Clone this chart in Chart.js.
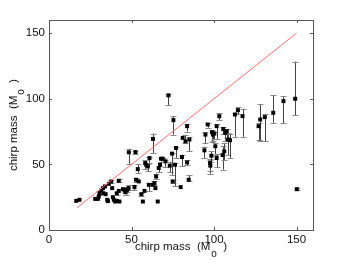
<!DOCTYPE html>
<html>
<head>
<meta charset="utf-8">
<script src="https://cdn.jsdelivr.net/npm/chart.js@4"></script>
<style>
  html, body { margin: 0; padding: 0; background: #fff; }
  canvas { display: block; }
</style>
</head>
<body>
<canvas id="chart" width="346" height="264"></canvas>
<script>
// measured chirp mass vs injected chirp mass
const massX = [16.5, 18.5, 28, 29.6, 30.2, 30.6, 31.7, 32.7, 33, 34.3, 33.9, 35.3, 35.7, 36.3, 37.7, 38.3, 38.7, 39.3, 40.1, 41.1,
  42.3, 41.1, 42.7, 42.3, 44.8, 45.8, 46.4, 47.4, 48.2, 48.4, 51.8, 52.4, 52.8, 53.8, 54.4, 56, 56.9, 57.9, 58.3, 58.9,
  59.9, 60.9, 60.5, 63, 63, 63.9, 64.5, 64.9, 65.9, 66.5, 67.3, 67.9, 68.9, 70.6, 72.4, 73.2, 74.6, 75, 75.4, 76.4,
  77, 79.8, 80.6, 81, 82.7, 83.7, 83.7, 84.7, 85.1, 94.2, 94.8, 96.2, 97.6, 97.8, 98.4, 98.8, 99.4, 100.2, 100.8, 101.6,
  101.6, 103.2, 105.2, 105.6, 106.2, 106.9, 107.7, 108.5, 109.7, 112.7, 114.5, 117.3, 127, 128, 130.8, 135.9, 142.1, 149.2, 150.2];
const massY = [22.2, 23, 23.7, 23.7, 25.5, 28, 30, 31.9, 28, 27.3, 33.2, 23, 22, 35.2, 37, 31.9, 25, 23, 21.7, 28,
  29.8, 22.2, 21.7, 37.5, 31.1, 30.1, 28.8, 30.6, 31.9, 59.2, 32.7, 59.4, 38.3, 46.4, 37, 27.3, 21.7, 29.8, 51, 49.7,
  48.5, 54.8, 34.4, 34.4, 69.4, 35.7, 31.9, 40.8, 21.7, 47.2, 49.7, 54.3, 54.3, 52.3, 102.6, 49, 58.2, 37, 83.7, 49.7,
  62.5, 32.7, 55.6, 70.2, 67.6, 79.1, 51.5, 38.3, 68.9, 60.7, 72.7, 80.4, 51, 49, 56.6, 74.5, 72.7, 73.5, 63.8, 79.1,
  54.8, 86.7, 57.1, 77, 59.9, 74, 75.3, 68.9, 68.4, 88, 91.3, 86.7, 79.1, 84.2, 86, 89.3, 98.2, 100, 31.1];
const errLo = [null, null, null, null, null, 26.5, null, null, null, null, null, null, null, null, 36, null, null, null, null, 26.5,
  null, null, null, 36.5, null, 28, 27, 29, 30.5, 50.5, 30.5, 58, 36.5, 43.5, null, 26, null, null, 46.5, null,
  45, 51, 29.5, null, 58.7, 34, null, 38.5, null, 44, null, 52, 53, 48, 95, 44, 42, 36, 72.7, 33.2,
  55, null, 48.5, null, 66, 75, 49.5, 37, 60, 55, 66, 78, 42.9, 45, 52, 67, 68, 69, 57, 69.4,
  48, 84, 46, 73, 53, 68, 70, 57.3, 55, 71, 88, 71, 68.4, 67.6, 67.5, 81.6, 81.6, 87.5, 30.5];
const errHi = [null, null, null, null, null, 29.5, null, null, null, null, null, null, null, null, 38, null, null, null, null, 29,
  null, null, null, 38.5, null, 31.5, 31, 33, 34, 62, 34.5, 60.5, 39.5, 50, null, 28.5, null, null, 53, null,
  50, 55.5, 35.5, null, 73.5, 37, null, 43, null, 48.5, null, 55, 55, 53.5, 103.5, 52, 59, 38, 86.7, 51,
  63.5, null, 57.5, null, 72.5, 80.5, 53, 42, 71, 63.5, 74.5, 81.5, 54.1, 53, 60, 76, 75, 75, 66, 80.5,
  58, 89, 63.8, 78.5, 66, 75.5, 77, 74, 73, 89.5, 93.5, 92.5, 81.6, 95.7, 88.5, 102.8, 102, 128.3, 31.8];

// y = x reference line
const lineX = [17, 150];
const lineY = [17, 150];

const xTicks = [0, 50, 100, 150];
const yTicks = [0, 50, 100, 150];
const axisTitle = ['chirp mass  (M', 'o', '  )'];

Chart.defaults.font.family = '"Liberation Sans", Arial, sans-serif';
Chart.defaults.font.size = 11.5;
Chart.defaults.color = '#111';

const points = massX.map((x, i) => ({ x: x, y: massY[i] }));
const diag = lineX.map((x, i) => ({ x: x, y: lineY[i] }));

// error bars, box with inward ticks, axis titles
const extras = {
  id: 'extras',
  beforeDatasetsDraw(chart) {
    const c = chart.ctx, xs = chart.scales.x, ys = chart.scales.y;
    c.save();
    c.lineWidth = 1;
    massX.forEach((x, i) => {
      if (errLo[i] == null) return;
      const px = Math.round(xs.getPixelForValue(x)) + 0.5;
      const lo = ys.getPixelForValue(errLo[i]);
      const hi = ys.getPixelForValue(errHi[i]);
      c.strokeStyle = '#444';
      c.beginPath();
      c.moveTo(px, lo); c.lineTo(px, hi);
      c.stroke();
      c.strokeStyle = '#888';
      c.beginPath();
      c.moveTo(px - 3, Math.round(lo) + 0.5); c.lineTo(px + 3, Math.round(lo) + 0.5);
      c.moveTo(px - 3, Math.round(hi) + 0.5); c.lineTo(px + 3, Math.round(hi) + 0.5);
      c.stroke();
    });
    c.restore();
  },
  afterDraw(chart) {
    const c = chart.ctx, a = chart.chartArea, xs = chart.scales.x, ys = chart.scales.y;
    c.save();
    c.strokeStyle = '#555';
    c.lineWidth = 1;
    c.strokeRect(Math.round(a.left) + 0.5, Math.round(a.top) + 0.5,
      Math.round(a.right - a.left), Math.round(a.bottom - a.top));
    c.beginPath();
    xTicks.forEach(v => {
      const px = Math.round(xs.getPixelForValue(v)) + 0.5;
      c.moveTo(px, a.bottom); c.lineTo(px, a.bottom - 3);
      c.moveTo(px, a.top); c.lineTo(px, a.top + 3);
    });
    yTicks.forEach(v => {
      const py = Math.round(ys.getPixelForValue(v)) + 0.5;
      c.moveTo(a.left, py); c.lineTo(a.left + 3, py);
      c.moveTo(a.right, py); c.lineTo(a.right - 3, py);
    });
    c.stroke();

    // axis titles with subscript o
    const main = '11.5px "Liberation Sans", Arial, sans-serif';
    const sub = '10px "Liberation Sans", Arial, sans-serif';
    c.fillStyle = '#111';
    c.textBaseline = 'alphabetic';
    c.textAlign = 'left';
    c.font = main;
    const w0 = c.measureText(axisTitle[0]).width;
    const w2 = c.measureText(axisTitle[2]).width;
    c.font = sub;
    const w1 = c.measureText(axisTitle[1]).width + 1;
    const total = w0 + w1 + w2;

    const drawTitle = (x0, base) => {
      c.font = main;
      c.fillText(axisTitle[0], x0, base);
      c.font = sub;
      c.fillText(axisTitle[1], x0 + w0 + 1, base + 7);
      c.font = main;
      c.fillText(axisTitle[2], x0 + w0 + w1, base);
    };

    const cx = (a.left + a.right) / 2;
    drawTitle(cx - total / 2, 250);

    const cy = (a.top + a.bottom) / 2;
    c.translate(17, cy);
    c.rotate(-Math.PI / 2);
    drawTitle(-total / 2, 0);
    c.restore();
  }
};

new Chart(document.getElementById('chart'), {
  type: 'scatter',
  data: {
    datasets: [
      {
        type: 'line',
        data: diag,
        borderColor: '#ff6a6a',
        borderWidth: 1,
        pointRadius: 0,
        fill: false
      },
      {
        data: points,
        backgroundColor: '#000',
        borderColor: '#000',
        borderWidth: 0,
        pointStyle: 'rect',
        pointRadius: 2.8
      }
    ]
  },
  options: {
    responsive: false,
    animation: false,
    layout: { padding: { top: 20, right: 33, left: 0, bottom: 0 } },
    plugins: { legend: { display: false }, tooltip: { enabled: false } },
    scales: {
      x: {
        type: 'linear', min: 0, max: 160,
        afterBuildTicks: s => { s.ticks = xTicks.map(v => ({ value: v })); },
        afterFit: s => { s.height = 34; },
        grid: { display: false, drawTicks: false },
        border: { display: false },
        ticks: { padding: 3, maxRotation: 0 }
      },
      y: {
        type: 'linear', min: 0, max: 160,
        afterBuildTicks: s => { s.ticks = yTicks.map(v => ({ value: v })); },
        afterFit: s => { s.width = 49; },
        grid: { display: false, drawTicks: false },
        border: { display: false },
        ticks: { padding: 4 }
      }
    }
  },
  plugins: [extras]
});
</script>
</body>
</html>
